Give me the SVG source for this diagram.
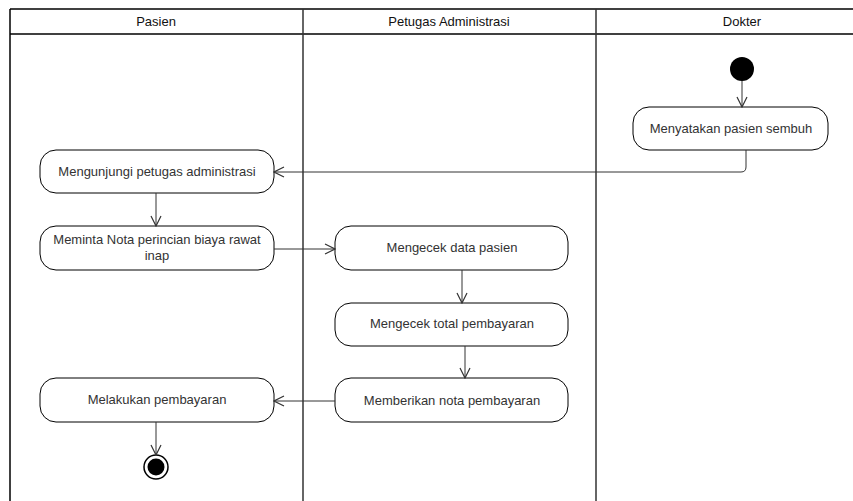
<svg xmlns="http://www.w3.org/2000/svg" width="853" height="501" viewBox="0 0 853 501">
<style>
.lane{fill:none;stroke:#000;stroke-width:1.5}
.div{stroke:#333;stroke-width:1.5}
.hd{font-family:"Liberation Sans",Arial,sans-serif;font-size:13px;fill:#111;text-anchor:middle}
.node rect{fill:#fff;stroke:#000;stroke-width:1}
.node text{font-family:"Liberation Sans",Arial,sans-serif;font-size:13px;fill:#333;text-anchor:middle}
.edge{fill:none;stroke:#333;stroke-width:1}
</style>
<defs>
<marker id="arr" viewBox="0 0 12 12" refX="11" refY="6" markerWidth="12" markerHeight="12" markerUnits="userSpaceOnUse" orient="auto">
<path d="M1,1 L11,6 L1,11" fill="none" stroke="#333" stroke-width="1.2"/>
</marker>
</defs>
<rect width="853" height="501" fill="#fff"/>
<g id="lanes">
<line class="lane" x1="10" y1="9" x2="853" y2="9"/>
<line class="lane" x1="10" y1="34" x2="853" y2="34"/>
<line class="lane" x1="10" y1="9" x2="10" y2="501"/>
<line class="div" x1="303" y1="9" x2="303" y2="501"/>
<line class="div" x1="596" y1="9" x2="596" y2="501"/>
<text class="hd" x="156" y="26">Pasien</text>
<text class="hd" x="449" y="26">Petugas Administrasi</text>
<text class="hd" x="742" y="26">Dokter</text>
</g>
<g id="start"><circle cx="742" cy="69" r="12" fill="#000"/></g>
<g id="n1" class="node"><rect x="633" y="107" width="195" height="43" rx="16"/><text x="731" y="133">Menyatakan pasien sembuh</text></g>
<g id="n2" class="node"><rect x="40" y="150" width="234" height="43" rx="16"/><text x="157" y="176">Mengunjungi petugas administrasi</text></g>
<g id="n3" class="node"><rect x="40" y="226" width="234" height="44" rx="16"/><text x="157" y="244">Meminta Nota perincian biaya rawat</text><text x="157" y="260">inap</text></g>
<g id="n4" class="node"><rect x="335" y="226" width="233" height="44" rx="16"/><text x="452" y="252">Mengecek data pasien</text></g>
<g id="n5" class="node"><rect x="335" y="303" width="233" height="43" rx="16"/><text x="452" y="328">Mengecek total pembayaran</text></g>
<g id="n6" class="node"><rect x="335" y="378" width="233" height="44" rx="16"/><text x="452" y="405">Memberikan nota pembayaran</text></g>
<g id="n7" class="node"><rect x="40" y="378" width="234" height="44" rx="16"/><text x="157" y="404">Melakukan pembayaran</text></g>
<g id="end"><circle cx="156" cy="467" r="12" fill="#fff" stroke="#000" stroke-width="1.5"/><circle cx="156" cy="467" r="8.5" fill="#000"/></g>
<g id="connectors">
<path class="edge" d="M742,81 V107" marker-end="url(#arr)"/>
<path class="edge" d="M746,150 V167 Q746,172 741,172 H274" marker-end="url(#arr)"/>
<path class="edge" d="M156,193 V226" marker-end="url(#arr)"/>
<path class="edge" d="M274,249 H335" marker-end="url(#arr)"/>
<path class="edge" d="M462,270 V303" marker-end="url(#arr)"/>
<path class="edge" d="M465,346 V378" marker-end="url(#arr)"/>
<path class="edge" d="M335,401 H274" marker-end="url(#arr)"/>
<path class="edge" d="M156,422 V455" marker-end="url(#arr)"/>
</g>
</svg>
